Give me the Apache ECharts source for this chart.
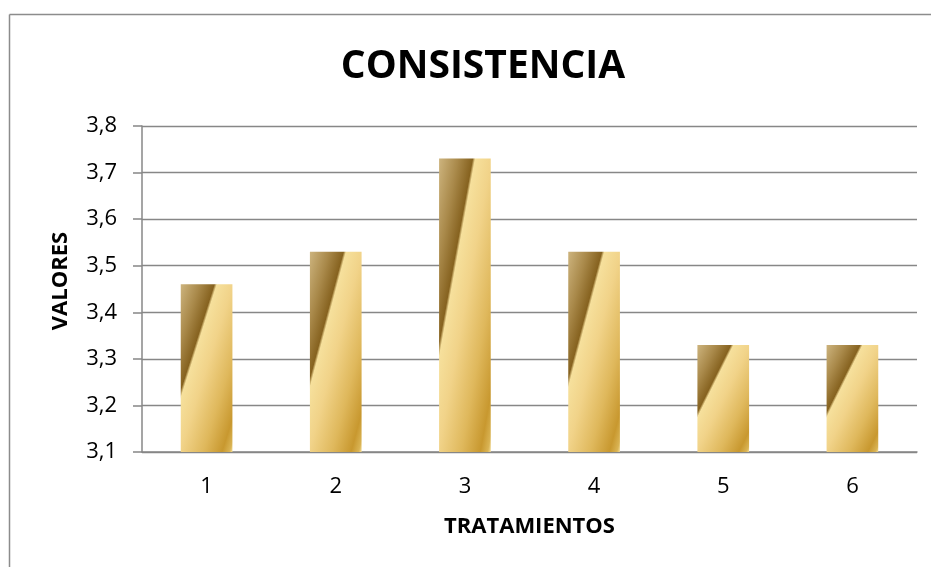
<!DOCTYPE html>
<html>
<head>
<meta charset="utf-8">
<script src="https://cdn.jsdelivr.net/npm/echarts@6/dist/echarts.min.js"></script>
<style>
html,body{margin:0;padding:0;background:#fff;}
#chart{width:931px;height:567px;}
</style>
</head>
<body>
<div id="chart"></div>
<script>
const categories = ['1', '2', '3', '4', '5', '6'];
const values = [3.46, 3.53, 3.73, 3.53, 3.33, 3.33];
const yMin = 3.1, yMax = 3.8, yStep = 0.1;
const titleText = 'CONSISTENCIA';
const xName = 'TRATAMIENTOS';
const yName = 'VALORES';

const FONT = '"Open Sans", "DejaVu Sans", sans-serif';
const GRAY = '#878787';

const stops = [
  {offset: 0, color: '#cdb47e'},
  {offset: 0.18, color: '#a9894a'},
  {offset: 0.32, color: '#86621f'},
  {offset: 0.345, color: '#f6e09c'},
  {offset: 0.5, color: '#f1d389'},
  {offset: 0.72, color: '#dfb85c'},
  {offset: 0.9, color: '#c8982f'},
  {offset: 0.97, color: '#d9b353'},
  {offset: 1, color: '#f3dc96'}
];

function goldGradient(w, h) {
  const a = 0.66 * h, b = 0.68 * w;
  const len2 = a * a + b * b;
  const maxProj = a * w + b * h;
  const s = maxProj / len2;
  return new echarts.graphic.LinearGradient(0, 0, a * s / w, b * s / h, stops);
}

const chart = echarts.init(document.getElementById('chart'), null, {renderer: 'canvas'});
const option = {
  animation: false,
  backgroundColor: '#fff',
  title: {
    text: titleText,
    left: 478, top: 39, textAlign: 'center',
    textStyle: {fontFamily: FONT, fontWeight: 'bold', fontSize: 39, color: '#000', lineHeight: 46}
  },
  graphic: [
    {type: 'line', silent: true, shape: {x1: 9.5, y1: 14.5, x2: 931, y2: 14.5},
     style: {stroke: '#8c8c8c', lineWidth: 1.5}},
    {type: 'line', silent: true, shape: {x1: 9.5, y1: 14.5, x2: 9.5, y2: 567},
     style: {stroke: '#8c8c8c', lineWidth: 1.5}}
  ],
  grid: {left: 142, right: 14, top: 126, bottom: 115},
  xAxis: {
    type: 'category', data: categories,
    axisLine: {lineStyle: {color: GRAY, width: 1.5}},
    axisTick: {show: false},
    axisLabel: {fontFamily: FONT, fontSize: 22, color: '#000', margin: 24},
    name: xName, nameLocation: 'middle', nameGap: 64,
    nameTextStyle: {fontFamily: FONT, fontWeight: 'bold', fontSize: 22, color: '#000'}
  },
  yAxis: {
    type: 'value', min: yMin, max: yMax, interval: yStep,
    axisLine: {show: true, lineStyle: {color: GRAY, width: 1.5}},
    axisTick: {show: true, length: 9, lineStyle: {color: GRAY, width: 1.5}},
    splitLine: {lineStyle: {color: GRAY, width: 1.3}},
    axisLabel: {fontFamily: FONT, fontSize: 22, color: '#000', margin: 25,
      formatter: v => v.toFixed(1).replace('.', ',')},
    name: yName, nameLocation: 'middle', nameGap: 70, nameRotate: 90,
    nameTextStyle: {fontFamily: FONT, fontWeight: 'bold', fontSize: 22, color: '#000',
      padding: [0, 0, 0, 16]}
  },
  series: [{
    type: 'bar', barWidth: '40%',
    data: values,
    itemStyle: {color: '#e0bd62'}
  }]
};
chart.setOption(option);

const base = chart.convertToPixel({yAxisIndex: 0}, yMin);
const c0 = chart.convertToPixel({xAxisIndex: 0}, categories[0]);
const c1 = chart.convertToPixel({xAxisIndex: 0}, categories[1]);
const barW = Math.abs(c1 - c0) * 0.4;
chart.setOption({
  series: [{
    data: values.map(v => {
      const h = Math.abs(base - chart.convertToPixel({yAxisIndex: 0}, v));
      return {value: v, itemStyle: {color: goldGradient(barW, h)}};
    })
  }]
});
</script>
</body>
</html>
